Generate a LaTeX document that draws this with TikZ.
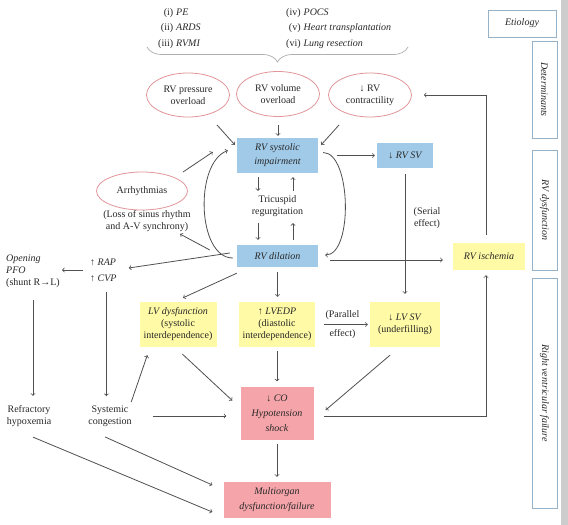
\documentclass[tikz,border=0pt]{standalone}
\usepackage{fontspec}
\setmainfont{Liberation Serif}
\usepackage{xcolor}
\usepackage{tikz}
\usetikzlibrary{shapes.geometric, arrows, positioning, calc, decorations.pathreplacing}
\definecolor{rvblue}{RGB}{160, 202, 232}
\definecolor{lvyellow}{RGB}{255, 250, 165}
\definecolor{copink}{RGB}{245, 165, 170}
\definecolor{ovalred}{RGB}{226, 150, 155}
\definecolor{sideframe}{RGB}{150, 178, 200}
\definecolor{linegray}{RGB}{80, 80, 80}
\definecolor{bracegray}{RGB}{175, 175, 175}
\definecolor{stripgray}{RGB}{205, 205, 205}
\definecolor{textdark}{RGB}{40, 40, 40}

\begin{document}
\begin{tikzpicture}[x=1pt, y=-1pt,
    every node/.style={font=\fontsize{10}{12}\selectfont, text=textdark},
    bluebox/.style={fill=rvblue, inner sep=0pt, align=center, font=\fontsize{10}{12}\selectfont\itshape},
    yellowbox/.style={fill=lvyellow, inner sep=0pt, align=center},
    pinkbox/.style={fill=copink, inner sep=0pt, align=center},
    oval/.style={ellipse, draw=ovalred, line width=0.8pt, fill=white, inner sep=0pt, align=center},
    sidebox/.style={draw=sideframe, line width=0.8pt, fill=white, inner sep=0pt, font=\fontsize{10}{12}\selectfont\itshape},
    flow/.style={draw=linegray, line width=0.8pt, ->}]
    \useasboundingbox (0,0) rectangle (568,525);
    \fill[white] (0,0) rectangle (568,525);
    \fill[stripgray] (561,0) rectangle (568,525);

    \node[anchor=west, inner sep=0pt] (etioL) at (158,27.5) {\renewcommand{\arraystretch}{1.3}\begin{tabular}{@{}r@{\hspace{3pt}}l@{}}(i) & \textit{PE}\\(ii) & \textit{ARDS}\\(iii) & \textit{RVMI}\end{tabular}};
    \node[anchor=west, inner sep=0pt] (etioR) at (286,27.5) {\renewcommand{\arraystretch}{1.3}\begin{tabular}{@{}r@{\hspace{3pt}}l@{}}(iv) & \textit{POCS}\\(v) & \textit{Heart transplantation}\\(vi) & \textit{Lung resection}\end{tabular}};
    \draw[bracegray, line width=0.7pt, decorate, decoration={brace, amplitude=15pt, mirror}] (147,47) -- (408,47);

    \node[oval, minimum width=83pt, minimum height=44pt] (press) at (188,95) {RV pressure\\overload};
    \node[oval, minimum width=83pt, minimum height=45pt] (vol) at (278,94) {RV volume\\overload};
    \node[oval, minimum width=83pt, minimum height=44pt] (contr) at (370,95) {↓ RV\\contractility};

    \node[bluebox, minimum width=81pt, minimum height=35pt] (rvsi) at (277.5,155.5) {RV systolic\\[2pt]impairment};
    \node[bluebox, minimum width=56pt, minimum height=25pt] (rvsv) at (405,155.5) {\textup{↓} RV SV};
    \node[align=center] (tric) at (277.5,206) {Tricuspid\\regurgitation};
    \node[bluebox, minimum width=81pt, minimum height=22pt] (dil) at (277.5,256) {RV dilation};
    \node[yellowbox, minimum width=72pt, minimum height=27pt] (isch) at (489,256.5) {\textit{RV ischemia}};

    \node[oval, minimum width=91pt, minimum height=38pt] (arr) at (142,191) {Arrhythmias};
    \node[align=center] (loss) at (147,221) {(Loss of sinus rhythm\\and A-V synchrony)};
    \node[align=center] (serial) at (427,218) {(Serial\\effect)};

    \node[anchor=west, align=left, inner sep=0pt] (pfo) at (6,271) {\textit{Opening}\\\textit{PFO}\\(shunt R→L)};
    \node[anchor=west, align=left, inner sep=0pt] (rap) at (90,270) {↑ \textit{RAP}\\[4pt]↑ \textit{CVP}};

    \node[yellowbox, minimum width=77pt, minimum height=45pt] (lvd) at (178,324.5) {\textit{LV dysfunction}\\(systolic\\interdependence)};
    \node[yellowbox, minimum width=76pt, minimum height=45pt] (lvedp) at (277,324.5) {↑ \textit{LVEDP}\\(diastolic\\interdependence)};
    \node[yellowbox, minimum width=70pt, minimum height=45pt] (lvsv) at (405,324.5) {↓ \textit{LV SV}\\(underfilling)};

    \node[align=center] (refr) at (29,416) {Refractory\\hypoxemia};
    \node[align=center] (syst) at (110,416) {Systemic\\congestion};
    \node[pinkbox, minimum width=73pt, minimum height=53pt] (co) at (277,413) {↓ \textit{CO}\\[3pt]\textit{Hypotension}\\[3pt]\textit{shock}};
    \node[pinkbox, minimum width=107pt, minimum height=36pt] (mo) at (277,500) {\textit{Multiorgan}\\[3pt]\textit{dysfunction/failure}};

    \node[sidebox, minimum width=68pt, minimum height=27pt] (etiol) at (522,23.5) {Etiology};
    \node[sidebox, rotate=-90, minimum width=97pt, minimum height=25pt] (deter) at (544.5,89.5) {Determinants};
    \node[sidebox, rotate=-90, minimum width=120pt, minimum height=25pt] (rvdys) at (544.5,210) {RV dysfunction};
    \node[sidebox, rotate=-90, minimum width=230pt, minimum height=25pt] (rvf) at (544.5,393) {Right ventricular failure};

    \draw[flow] ([xshift=29pt,yshift=-30pt]press.center) -- ([xshift=-2pt,yshift=-7pt]rvsi.north west);
    \draw[flow, shorten <=8pt, shorten >=2pt] (vol.south) -- (vol.south |- rvsi.north);
    \draw[flow] ([xshift=-31pt,yshift=-30pt]contr.center) -- ([xshift=3pt,yshift=-7pt]rvsi.north east);
    \draw[flow, shorten <=19pt, shorten >=2pt] (rvsi.east) -- (rvsv.west);

    \draw[flow, shorten <=4pt, shorten >=1pt] ([xshift=-19.5pt]rvsi.south) -- ([xshift=-19.5pt]rvsi.south |- tric.north);
    \draw[flow, shorten <=3pt, shorten >=5pt] ([xshift=-19.5pt]tric.south) -- ([xshift=-19.5pt]tric.south |- dil.north);
    \draw[flow, shorten <=5pt, shorten >=3pt] ([xshift=15.5pt]dil.north) -- ([xshift=15.5pt]dil.north |- tric.south);
    \draw[flow, shorten <=1pt, shorten >=4pt] ([xshift=15.5pt]tric.north) -- ([xshift=15.5pt]tric.north |- rvsi.south);

    \draw[flow] ([xshift=5pt,yshift=3pt]rvsi.east) to[out=0, in=0, looseness=0.7] ([xshift=7pt,yshift=1pt]dil.east);
    \draw[flow] ([xshift=-4pt,yshift=-2pt]dil.west) to[out=180, in=200, looseness=0.85] ([xshift=-9pt,yshift=5pt]rvsi.west);
    \draw[flow] ([xshift=41pt,yshift=19pt]arr.center) -- ([xshift=-24pt,yshift=3.5pt]rvsi.west);
    \draw[flow] ([xshift=-27pt,yshift=6pt]dil.west) -- ([xshift=33pt,yshift=-13pt]loss.center);
    \draw[flow] ([xshift=-7pt,yshift=3pt]dil.west) -- ([xshift=12pt,yshift=2pt]rap.east);
    \draw[flow, shorten <=12pt, shorten >=10pt] ([yshift=-4pt]dil.east) -- ([yshift=-4pt]dil.east -| isch.west);

    \draw[flow, shorten >=2pt] ([xshift=-7pt]rap.west) -- (rap.west -| pfo.east);
    \draw[flow, shorten <=12pt, shorten >=6pt] (pfo.south) -- (pfo.south |- refr.north);
    \draw[flow, shorten <=10pt, shorten >=6pt] ([xshift=3pt]rap.south) -- ([xshift=3pt]rap.south |- syst.north);

    \draw[flow] ([yshift=-6pt]dil.south west) -- ([xshift=5pt,yshift=4pt]lvd.north);
    \draw[flow, shorten <=5pt, shorten >=5pt] (dil.south) -- (dil.south |- lvedp.north);
    \draw[flow, shorten <=6pt, shorten >=8pt] (rvsv.south) -- (lvsv.north);
    \draw[flow, shorten <=9pt, shorten >=2pt] (lvedp.east) -- (lvsv.west) node[midway, above=1pt] (par1) {(Parallel} node[midway, below=1pt] (par2) {effect)};

    \draw[flow] ([xshift=-4pt]syst.north east) -- ([xshift=8pt,yshift=-8pt]lvd.south west);
    \draw[flow, shorten <=18pt, shorten >=14pt] (syst.east) -- (syst.east -| co.west);
    \draw[flow, shorten <=10pt, shorten >=11pt] ([xshift=-3pt]lvd.south) -- ([yshift=5pt]co.west);
    \draw[flow, shorten <=4pt, shorten >=5pt] (lvedp.south) -- (co.north);
    \draw[flow] ([xshift=-15pt,yshift=-8pt]lvsv.south) -- ([xshift=12pt,yshift=3pt]co.east);
    \draw[flow, shorten <=4pt, shorten >=5pt] (co.south) -- (mo.north);

    \draw[flow] ([xshift=4pt,yshift=-7pt]refr.south) -- ([xshift=-11pt,yshift=-12pt]mo.west);
    \draw[flow] ([xshift=-5pt,yshift=-7pt]syst.south) -- ([xshift=-11pt,yshift=15pt]mo.west);

    \draw[flow, shorten >=5pt] ([xshift=10pt,yshift=-3pt]co.east) -| ([xshift=-3pt]isch.south);
    \draw[flow, shorten <=8pt, shorten >=12pt] ([xshift=-3pt]isch.north) |- (contr.east);
\end{tikzpicture}
\end{document}
